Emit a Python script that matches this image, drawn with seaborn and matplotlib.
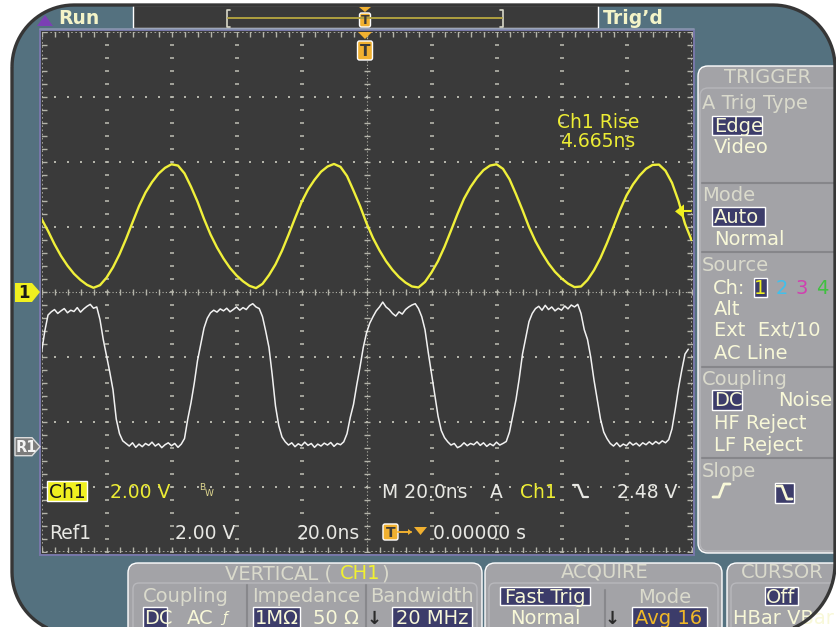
import numpy as np
import matplotlib
matplotlib.use("Agg")
import matplotlib.pyplot as plt
import seaborn as sns
from matplotlib.patches import FancyBboxPatch, Polygon

# ---- traces ----
# Ch1, one sample every 2 ns, volts
ch1_t = np.arange(-100, 101, 2)
ch1_v = [2.25, 1.88, 1.47, 1.11, 0.81, 0.56, 0.37, 0.22, 0.13,
         0.21, 0.44, 0.76, 1.16, 1.63, 2.14, 2.64, 3.06, 3.38, 3.64,
         3.82, 3.93, 3.89, 3.65, 3.24, 2.78, 2.25, 1.77, 1.37, 1.03,
         0.74, 0.51, 0.33, 0.19, 0.12,
         0.25, 0.52, 0.85, 1.27, 1.76, 2.27, 2.76, 3.15, 3.45, 3.70,
         3.86, 3.94, 3.85, 3.57, 3.12, 2.65, 2.12, 1.66, 1.28, 0.95,
         0.68, 0.46, 0.29, 0.17,
         0.14, 0.31, 0.60, 0.95, 1.39, 1.89, 2.40, 2.87, 3.23, 3.52,
         3.75, 3.89, 3.93, 3.79, 3.47, 3.01, 2.52, 2.00, 1.56, 1.20,
         0.88, 0.62, 0.42, 0.26, 0.15,
         0.17, 0.37, 0.67, 1.05, 1.51, 2.01, 2.52, 2.97, 3.31, 3.58,
         3.79, 3.91, 3.92, 3.73, 3.36, 2.80, 2.10, 1.60]

# Ref1, one sample every 1 ns, volts
ref1_t = np.arange(-100, 100, 1)
ref1_v = [2.90, 3.55, 4.05, 4.15, 4.22, 4.10, 4.18, 4.25, 4.12, 4.20,
          4.16, 4.28, 4.14, 4.24, 4.32, 4.38, 4.26, 4.30, 3.91, 3.30,
          2.80, 2.30, 1.75, 0.85, 0.40, 0.18, 0.10, 0.02, 0.12, -0.02,
          0.08, 0.00, 0.10, 0.04, 0.14, 0.02, 0.09, -0.03, 0.06, 0.12,
          0.03, 0.10, -0.02, 0.08, 0.25, 0.85, 1.35, 1.95, 2.65, 3.15,
          3.65, 3.95, 4.12, 4.20, 4.14, 4.24, 4.18, 4.26, 4.15, 4.22,
          4.30, 4.20, 4.28, 4.22, 4.34, 4.40, 4.30, 4.25, 4.00, 3.55,
          3.05, 2.20, 1.25, 0.65, 0.30, 0.15, 0.05, 0.12, 0.00, 0.09,
          0.03, 0.14, 0.04, 0.10, -0.02, 0.08, 0.02, 0.11, 0.05, 0.13,
          0.01, 0.10, 0.06, 0.15, 0.40, 0.90, 1.30, 1.90, 2.45, 3.05,
          3.50, 3.80, 4.00, 4.18, 4.30, 4.45, 4.30, 4.22, 4.10, 4.02,
          4.15, 4.08, 4.22, 4.30, 4.36, 4.40, 4.25, 4.00, 3.60, 2.90,
          2.25, 1.60, 0.95, 0.50, 0.28, 0.15, 0.05, 0.10, -0.03, 0.02,
          0.12, 0.03, 0.10, 0.06, 0.15, 0.04, 0.12, 0.01, 0.09, 0.03,
          0.14, 0.05, 0.10, 0.16, 0.45, 0.95, 1.45, 2.10, 2.85, 3.35,
          3.85, 4.10, 4.25, 4.32, 4.20, 4.35, 4.22, 4.30, 4.18, 4.26,
          4.20, 4.33, 4.24, 4.36, 4.30, 4.38, 4.10, 3.60, 3.30, 2.75,
          2.05, 1.45, 0.85, 0.45, 0.25, 0.10, 0.02, 0.12, 0.00, 0.08,
          0.03, 0.14, 0.05, 0.11, 0.02, 0.12, 0.06, 0.15, 0.07, 0.16,
          0.09, 0.18, 0.12, 0.22, 0.55, 1.15, 1.80, 2.35, 2.85, 3.00]

ch1_scale = 2.0     # V/div
ref1_scale = 2.0    # V/div
ref1_pos = -2.38    # div
trig_level = 2.48   # V

# ---- colours ----
BEZEL = "#54717f"
SCREEN = "#3a3a3a"
PANEL = "#a3a3a7"
SEL = "#3c3c6a"
CREAM = "#f8f8d8"
HEAD = "#dadacc"
YEL = "#ecec34"
ORANGE = "#f0b030"
WHITE = "#e8e8e4"
GRID = "#b4b4aa"

W, H = 836, 627
sns.set_theme(style="dark")
plt.rcParams["font.family"] = ["DejaVu Sans"]

fig = plt.figure(figsize=(W / 100, H / 100), dpi=100)
fig.patch.set_facecolor("white")

bg = fig.add_axes([0, 0, 1, 1], zorder=0)
fg = fig.add_axes([0, 0, 1, 1], zorder=3)
for a in (bg, fg):
    a.set_xlim(0, W)
    a.set_ylim(H, 0)
    a.axis("off")


def ctext(a, x, cy, s, color, size=13.5, ha="left", weight="normal", clip=None, **kw):
    # cy is the vertical centre of the capitals, in pixels
    t = a.text(x, cy + 0.36 * size * 100 / 72, s, color=color, fontsize=size,
               ha=ha, va="baseline", fontweight=weight, **kw)
    if clip is not None:
        t.set_clip_path(clip)
        t.set_clip_on(True)
    return t


def box(a, x0, y0, x1, y1, fc, r=0, clip=None, **kw):
    p = FancyBboxPatch((x0, y0), x1 - x0, y1 - y0,
                       boxstyle=f"round,pad=0,rounding_size={r}" if r else "square,pad=0",
                       fc=fc, **kw)
    a.add_patch(p)
    if clip is not None:
        p.set_clip_path(clip)
    return p


def bezel_outline(x0, y0, x1, y1, radii):
    # corners in order: top-left, top-right, bottom-right, bottom-left (pixels, y down)
    rtl, rtr, rbr, rbl = radii
    pts = []
    for (cx, cy, r, a0) in ((x0 + rtl, y0 + rtl, rtl, 180), (x1 - rtr, y0 + rtr, rtr, 270),
                            (x1 - rbr, y1 - rbr, rbr, 0), (x0 + rbl, y1 - rbl, rbl, 90)):
        ang = np.radians(np.linspace(a0, a0 + 90, 24))
        pts += list(zip(cx + r * np.cos(ang), cy + r * np.sin(ang)))
    return pts


# ---- bezel ----
shape = bezel_outline(12, 5, 835, 634, (62, 62, 70, 62))
bezel = Polygon(shape, closed=True, fc=BEZEL, ec="none")
bg.add_patch(bezel)

# top bar
box(bg, 133, 5, 598, 28, SCREEN)
bg.plot([40, 694], [28.5, 28.5], color="#8894ae", lw=1.2)
ctext(bg, 58, 17, "Run", "#f4f4c8", size=13.5, weight="bold")
ctext(bg, 603, 17, "Trig\u2019d", "#f4f4c8", size=13.5, weight="bold")
bg.add_patch(Polygon([(37, 26), (45, 15), (53, 26)], closed=True, fc="#7b40b4", ec="none"))
# record bracket
bg.plot([230, 227, 227, 230], [10, 10, 27, 27], color="#d8d8c8", lw=1.2)
bg.plot([500, 503, 503, 500], [10, 10, 27, 27], color="#d8d8c8", lw=1.2)
bg.plot([228, 502], [17.5, 17.5], color="#b0a040", lw=1.4)
bg.add_patch(Polygon([(359, 7), (371, 7), (365, 12)], closed=True, fc=ORANGE, ec="none"))
box(bg, 359.5, 13, 370.5, 27, ORANGE, r=2)
ctext(bg, 365, 20, "T", "#3a3a3a", size=9, ha="center", weight="bold")

# screen
box(bg, 39.5, 29.5, 693.5, 555, SCREEN, ec="#7878aa", lw=1.4)

# right trigger menu
box(bg, 698, 66, 850, 553, PANEL, r=10)
box(bg, 700, 88, 850, 551, "none", r=8, ec="#b6b6ba", lw=1)
for sy in (183, 252, 367, 458):
    bg.plot([702, 836], [sy, sy], color="#86868a", lw=1.5)
ctext(bg, 768, 76, "TRIGGER", HEAD, size=14, ha="center")
ctext(bg, 702, 102, "A Trig Type", HEAD, size=14)
box(bg, 712, 116, 762, 135, SEL)
ctext(bg, 714, 125, "Edge", CREAM, size=14)
ctext(bg, 714, 146, "Video", CREAM, size=14)
ctext(bg, 702, 194, "Mode", HEAD, size=14)
box(bg, 712, 207, 765, 226, SEL)
ctext(bg, 714, 216, "Auto", CREAM, size=14)
ctext(bg, 714, 238, "Normal", CREAM, size=14)
ctext(bg, 702, 264, "Source", HEAD, size=14)
ctext(bg, 713, 287, "Ch:", CREAM, size=14)
box(bg, 754, 278, 767, 297, SEL)
ctext(bg, 760.5, 287, "1", "#f0f020", size=14, ha="center")
ctext(bg, 782, 287, "2", "#40c0ec", size=14, ha="center")
ctext(bg, 802, 287, "3", "#d040b0", size=14, ha="center")
ctext(bg, 822, 287, "4", "#40c040", size=14, ha="center")
ctext(bg, 714, 308, "Alt", CREAM, size=14)
ctext(bg, 714, 329, "Ext  Ext/10", CREAM, size=14)
ctext(bg, 714, 352, "AC Line", CREAM, size=14)
ctext(bg, 702, 378, "Coupling", HEAD, size=14)
box(bg, 712, 390, 742, 410, SEL)
ctext(bg, 714, 399, "DC", CREAM, size=14)
ctext(bg, 778, 399, "Noise", CREAM, size=14)
ctext(bg, 714, 422, "HF Reject", CREAM, size=14)
ctext(bg, 714, 444, "LF Reject", CREAM, size=14)
ctext(bg, 702, 470, "Slope", HEAD, size=14)
bg.plot([713, 719, 724, 730], [497, 497, 484, 484], color=CREAM, lw=2)
box(bg, 775, 483, 794, 503, SEL)
bg.plot([777, 782, 787, 792], [486, 486, 499, 499], color=CREAM, lw=2)

# bottom menus
box(bg, 128, 563, 482, 660, PANEL, r=10)
box(bg, 133, 583, 477, 660, "none", r=6, ec="#b8b8bc", lw=1)
ctext(bg, 225, 572, "VERTICAL (", HEAD, size=14)
ctext(bg, 340, 572, "CH1", "#f0f030", size=14)
ctext(bg, 381, 572, ")", HEAD, size=14)
ctext(bg, 143, 595, "Coupling", HEAD, size=14)
ctext(bg, 252, 595, "Impedance", HEAD, size=14)
ctext(bg, 370, 595, "Bandwidth", HEAD, size=14)
for sx in (247, 366):
    bg.plot([sx, sx], [585, 627], color="#88888c", lw=1.5)
box(bg, 143, 607, 167, 630, SEL)
ctext(bg, 144, 617, "DC", CREAM, size=14)
ctext(bg, 187, 617, "AC", CREAM, size=14)
ctext(bg, 222, 617, "\u0192", CREAM, size=10, style="italic")
box(bg, 253, 607, 300, 630, SEL)
ctext(bg, 255, 617, "1M\u03a9", CREAM, size=14)
ctext(bg, 313, 617, "50 \u03a9", CREAM, size=14)
ctext(bg, 374, 617, "\u2193", "#2a2a2a", size=13, ha="center", weight="bold")
box(bg, 392, 607, 472, 630, SEL)
ctext(bg, 396, 617, "20 MHz", CREAM, size=14)

box(bg, 485, 563, 722, 660, PANEL, r=10)
box(bg, 489, 583, 718, 660, "none", r=6, ec="#b8b8bc", lw=1)
ctext(bg, 605, 571, "ACQUIRE", HEAD, size=14, ha="center")
box(bg, 500, 587, 590, 605, SEL)
ctext(bg, 545, 596, "Fast Trig", CREAM, size=14, ha="center")
ctext(bg, 665, 596, "Mode", HEAD, size=14, ha="center")
bg.plot([605, 605], [590, 627], color="#88888c", lw=1.5)
ctext(bg, 545, 617, "Normal", CREAM, size=14, ha="center")
ctext(bg, 612, 617, "\u2193", "#2a2a2a", size=13, ha="center", weight="bold")
box(bg, 632, 607, 707, 630, SEL)
ctext(bg, 669, 617, "Avg 16", "#f0b828", size=14, ha="center")

box(bg, 727, 563, 860, 660, PANEL, r=10, clip=bezel)
box(bg, 731, 583, 860, 660, "none", r=6, ec="#b8b8bc", lw=1, clip=bezel)
ctext(bg, 782, 571, "CURSOR", HEAD, size=14, ha="center", clip=bezel)
box(bg, 765, 587, 798, 605, SEL, clip=bezel)
ctext(bg, 781, 596, "Off", CREAM, size=14, ha="center", clip=bezel)
ctext(bg, 733, 617, "HBar VBar", CREAM, size=14, clip=bezel)

# bezel outline over the panels
fg.add_patch(Polygon(shape, closed=True, fc="none", ec="#363636", lw=2.4))

# ---- graticule and traces ----
ax = fig.add_axes([41.5 / W, (H - 552) / H, 650 / W, 520 / H], zorder=2)
ax.set_facecolor(SCREEN)
ax.set_xlim(-100, 100)
ax.set_ylim(-4, 4)
ax.set_xticks([])
ax.set_yticks([])
ax.grid(False)
for s in ax.spines.values():
    s.set_visible(False)

minor_t = np.arange(-100, 100.1, 4)
minor_d = np.arange(-4, 4.01, 0.2)
for gx in (-80, -60, -40, -20, 20, 40, 60, 80):
    ax.plot(np.full_like(minor_d, gx), minor_d, ls="none", marker="_", ms=2.5, mew=1.2, color=GRID)
for gy in (-3, -2, -1, 1, 2, 3):
    ax.plot(minor_t, np.full_like(minor_t, gy), ls="none", marker="s", ms=1.5, mew=0, color=GRID)
# centre lines and border with minor ticks
ax.axhline(0, color=GRID, lw=0.8, ls=(0, (1, 2)))
ax.axvline(0, color=GRID, lw=0.8, ls=(0, (1, 2)))
ax.plot(minor_t, np.zeros_like(minor_t), ls="none", marker="|", ms=5, mew=1, color=GRID)
ax.plot(np.zeros_like(minor_d), minor_d, ls="none", marker="_", ms=5, mew=1, color=GRID)
for yy in (-4, 4):
    ax.axhline(yy, color=GRID, lw=1.2, ls=(0, (1, 1.5)))
    ax.plot(minor_t, np.full_like(minor_t, yy), ls="none", marker="|", ms=7, mew=1, color=GRID)
for xx in (-100, 100):
    ax.axvline(xx, color=GRID, lw=1.2, ls=(0, (1, 1.5)))
    ax.plot(np.full_like(minor_d, xx), minor_d, ls="none", marker="_", ms=7, mew=1, color=GRID)

sns.lineplot(x=ref1_t, y=np.array(ref1_v) / ref1_scale + ref1_pos, ax=ax,
             color="#f2f2f2", lw=1.1, estimator=None)
sns.lineplot(x=ch1_t, y=np.array(ch1_v) / ch1_scale, ax=ax,
             color="#f0f03a", lw=1.7, estimator=None)
ax.set_xlabel("")
ax.set_ylabel("")

# ---- on-screen readouts and markers ----
ctext(fg, 598, 121, "Ch1 Rise", YEL, ha="center")
ctext(fg, 598, 140, "4.665ns", YEL, ha="center")

box(fg, 47, 481, 87, 501, "#f0f020")
ctext(fg, 49, 491, "Ch1", "#1a1a1a")
ctext(fg, 110, 491, "2.00 V", YEL)
ctext(fg, 199, 487, "B", "#e0d890", size=6.5)
ctext(fg, 205, 493, "W", "#e0d890", size=6.5)
ctext(fg, 382, 491, "M 20.0ns", WHITE)
ctext(fg, 490, 491, "A", WHITE)
ctext(fg, 520, 491, "Ch1", YEL)
fg.plot([573, 578, 583, 588], [485, 485, 497, 497], color=WHITE, lw=1.6)
ctext(fg, 617, 491, "2.48 V", WHITE)

ctext(fg, 49, 532, "Ref1", WHITE)
ctext(fg, 175, 532, "2.00 V", WHITE)
ctext(fg, 297, 532, "20.0ns", WHITE)
box(fg, 383, 524, 398, 540, ORANGE, r=2)
ctext(fg, 390.5, 532, "T", "#3a3a3a", size=10, ha="center", weight="bold")
fg.plot([398, 411], [532, 532], color=ORANGE, lw=1.4)
fg.add_patch(Polygon([(408, 529), (412, 532), (408, 535)], closed=True, fc=ORANGE, ec="none"))
fg.add_patch(Polygon([(414, 527), (427, 527), (420.5, 535)], closed=True, fc=ORANGE, ec="none"))
ctext(fg, 433, 532, "0.00000 s", WHITE)

# trigger position marker on graticule
fg.add_patch(Polygon([(358, 32), (372, 32), (365, 39)], closed=True, fc=ORANGE, ec="none"))
box(fg, 357.5, 41, 372.5, 60, ORANGE, r=2)
ctext(fg, 365, 50.5, "T", "#3a3a3a", size=11, ha="center", weight="bold")

# trigger level arrow
ty = 292 - trig_level / ch1_scale * 65
fg.add_patch(Polygon([(675, ty), (684, ty - 7), (684, ty + 7)], closed=True, fc="#f0f020", ec="none"))
fg.plot([684, 691], [ty, ty], color="#f0f020", lw=1.5)

# channel ground markers
fg.add_patch(Polygon([(15, 283), (32, 283), (40, 292), (32, 302), (15, 302)],
                     closed=True, fc="#f0f020", ec="none"))
ctext(fg, 24, 292, "1", "#1a1a1a", size=12, ha="center", weight="bold")
ry = 292 - ref1_pos * 65
fg.add_patch(Polygon([(15, ry - 9), (32, ry - 9), (40, ry), (32, ry + 9), (15, ry + 9)],
                     closed=True, fc="#7c7c7c", ec="#dcdcdc", lw=1))
ctext(fg, 26, ry, "R1", "#f4f4f4", size=10.5, ha="center", weight="bold")

fig.savefig("out.png", dpi=100, facecolor="white")
